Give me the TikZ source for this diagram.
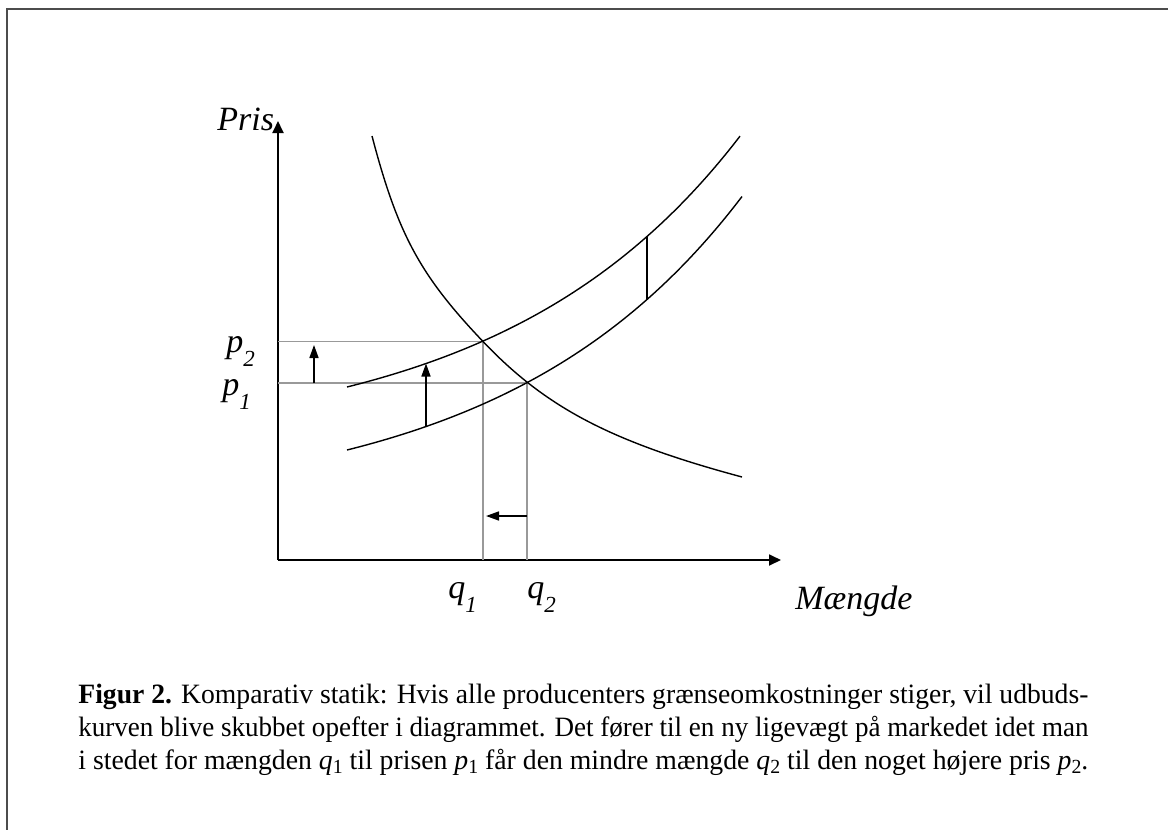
\documentclass[tikz,border=0pt]{standalone}
\usepackage{fontspec}
\setmainfont{Liberation Serif}
\usetikzlibrary{arrows.meta}
\newcommand\capsub[2]{\textit{#1}\raisebox{-0.32ex}{\fontsize{10}{12}\selectfont #2}}
\newcommand\lblsub[2]{#1\raisebox{-0.42em}{\fontsize{11.5}{13}\selectfont #2}}
\begin{document}
\begin{tikzpicture}[x=0.5pt,y=-0.5pt,
  curve/.style={line width=0.7pt,black},
  axis/.style={line width=0.9pt,-{Triangle[length=6pt,width=5.5pt]}},
  guide/.style={line width=0.75pt,color=black!40},
  shiftarrow/.style={line width=0.8pt,-{Triangle[length=6.5pt,width=4.5pt]}},
  lbl/.style={inner sep=0pt,anchor=base west,font=\fontsize{17}{20}\selectfont\itshape},
  capline/.style={inner sep=0pt,anchor=base west,font=\fontsize{14}{17}\selectfont},
]
\useasboundingbox (0,0) rectangle (1168,830);
% frame
\coordinate (fbl) at (7,830);
\coordinate (ftl) at (7,9);
\coordinate (ftr) at (1168,9);
\draw[line width=1pt,black!70] (fbl) -- (ftl) -- (ftr);

% axes
\coordinate (O) at (278,560);
\coordinate (ytip) at (278,121);
\coordinate (xtip) at (781,560);
\draw[axis] (O) -- (ytip);
\draw[axis] (O) -- (xtip);

% guide lines
\coordinate (E2) at (483,341.5);
\coordinate (E1) at (527,383);
\coordinate (Y2) at (278,341.5);
\coordinate (Y1) at (278,383);
\coordinate (X2) at (483,560);
\coordinate (X1) at (527,560);
\draw[guide] (Y2) -- (E2) -- (X2);
\draw[guide] (Y1) -- (E1) -- (X1);

% supply curves
\draw[curve] plot[domain=347:740,samples=60] (\x,{387-59.7*(exp(0.0042*(\x-347))-1)});
\draw[curve] plot[domain=347:742,samples=60] (\x,{450-59.7*(exp(0.0042*(\x-347))-1)});

% demand curve
\coordinate (dA) at (372,136);
\coordinate (dB) at (742,477);
\draw[curve] (dA) .. controls (397.8,234.2) and (420,275.3) .. (E2)
  .. controls (546,407.7) and (610.7,441.7) .. (dB);

% shift arrows
\coordinate (a1s) at (314,383);
\coordinate (a1e) at (314,345);
\draw[shiftarrow] (a1s) -- (a1e);
\coordinate (a2s) at (426,{450-59.7*(exp(0.0042*(426-347))-1)});
\coordinate (a2e) at (426,{387-59.7*(exp(0.0042*(426-347))-1)});
\draw[shiftarrow] (a2s) -- (a2e);
\coordinate (a3s) at (527,516);
\coordinate (a3e) at (486,516);
\draw[shiftarrow] (a3s) -- (a3e);
\coordinate (vs) at (647,{450-59.7*(exp(0.0042*(647-347))-1)});
\coordinate (ve) at (647,{387-59.7*(exp(0.0042*(647-347))-1)});
\draw[curve] (vs) -- (ve);

% labels
\node[lbl] (pris) at (217,130) {Pris};
\node[lbl] (p2) at (226,352) {\lblsub{p}{2}};
\node[lbl] (p1) at (222,395) {\lblsub{p}{1}};
\node[lbl] (q1) at (448,598) {\lblsub{q}{1}};
\node[lbl] (q2) at (527,598) {\lblsub{q}{2}};
\node[lbl] (mgd) at (795,609) {Mængde};

% caption
\node[capline] (c1) at (78,703) {\resizebox{505pt}{\height}{\textbf{Figur 2.} Komparativ statik: Hvis alle producenters grænseomkostninger stiger, vil udbuds-}};
\node[capline] (c2) at (78,736) {\resizebox{505pt}{\height}{kurven blive skubbet opefter i diagrammet. Det fører til en ny ligevægt på markedet idet man}};
\node[capline] (c3) at (78,769) {\resizebox{505pt}{\height}{i stedet for mængden \capsub{q}{1} til prisen \capsub{p}{1} får den mindre mængde \capsub{q}{2} til den noget højere pris \capsub{p}{2}.}};
\end{tikzpicture}
\end{document}
